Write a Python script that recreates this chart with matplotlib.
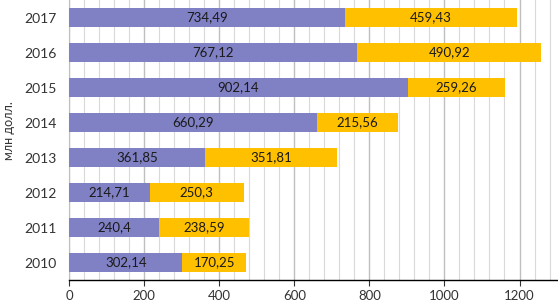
import matplotlib
matplotlib.use("Agg")
import matplotlib.pyplot as plt
from matplotlib.ticker import MultipleLocator

plt.rcParams['font.family'] = ['Lato', 'DejaVu Sans']

years = ["2010", "2011", "2012", "2013", "2014", "2015", "2016", "2017"]
series_a = [302.14, 240.4, 214.71, 361.85, 660.29, 902.14, 767.12, 734.49]
series_b = [170.25, 238.59, 250.3, 351.81, 215.56, 259.26, 490.92, 459.43]
labels_a = ["302,14", "240,4", "214,71", "361,85", "660,29", "902,14", "767,12", "734,49"]
labels_b = ["170,25", "238,59", "250,3", "351,81", "215,56", "259,26", "490,92", "459,43"]

fig = plt.figure(figsize=(5.58, 3.03), dpi=100)
ax = fig.add_axes([0.1237, 0.0759, 0.8746, 0.9241])

pos = range(len(years))
bars_a = ax.barh(pos, series_a, height=0.57, color="#8080C4", zorder=3)
bars_b = ax.barh(pos, series_b, left=series_a, height=0.57, color="#FFC000", zorder=3)

for bar, txt in zip(bars_a, labels_a):
    ax.text(bar.get_x() + bar.get_width() / 2, bar.get_y() + bar.get_height() / 2, txt,
            ha="center", va="center", fontsize=9.5, color="#1a1a1a", zorder=4)
for bar, txt in zip(bars_b, labels_b):
    ax.text(bar.get_x() + bar.get_width() / 2, bar.get_y() + bar.get_height() / 2, txt,
            ha="center", va="center", fontsize=9.5, color="#1a1a1a", zorder=4)

ax.set_xlim(0, 1300)
ax.set_ylim(-0.5, len(years) - 0.5)
ax.set_yticks(list(pos))
ax.set_yticklabels(years, fontsize=10, color="#333333")
ax.xaxis.set_major_locator(MultipleLocator(200))
ax.xaxis.set_minor_locator(MultipleLocator(40))
ax.tick_params(axis="x", which="major", labelsize=9.5, length=4, direction="out", colors="#333333")
ax.tick_params(axis="x", which="minor", length=0)
ax.tick_params(axis="y", length=0, pad=9)

ax.grid(axis="x", which="minor", color="#d9d9d9", linewidth=0.8, zorder=0)
ax.grid(axis="x", which="major", color="#bfbfbf", linewidth=1.0, zorder=0)

ax.spines["top"].set_visible(False)
ax.spines["right"].set_visible(False)
ax.spines["left"].set_color("#bfbfbf")
ax.spines["bottom"].set_color("black")
ax.spines["bottom"].set_linewidth(1.0)

fig.text(0.016, 0.57, "млн долл.", rotation=90, ha="center", va="center", fontsize=9, color="#333333")

fig.savefig("out.png", dpi=100)
